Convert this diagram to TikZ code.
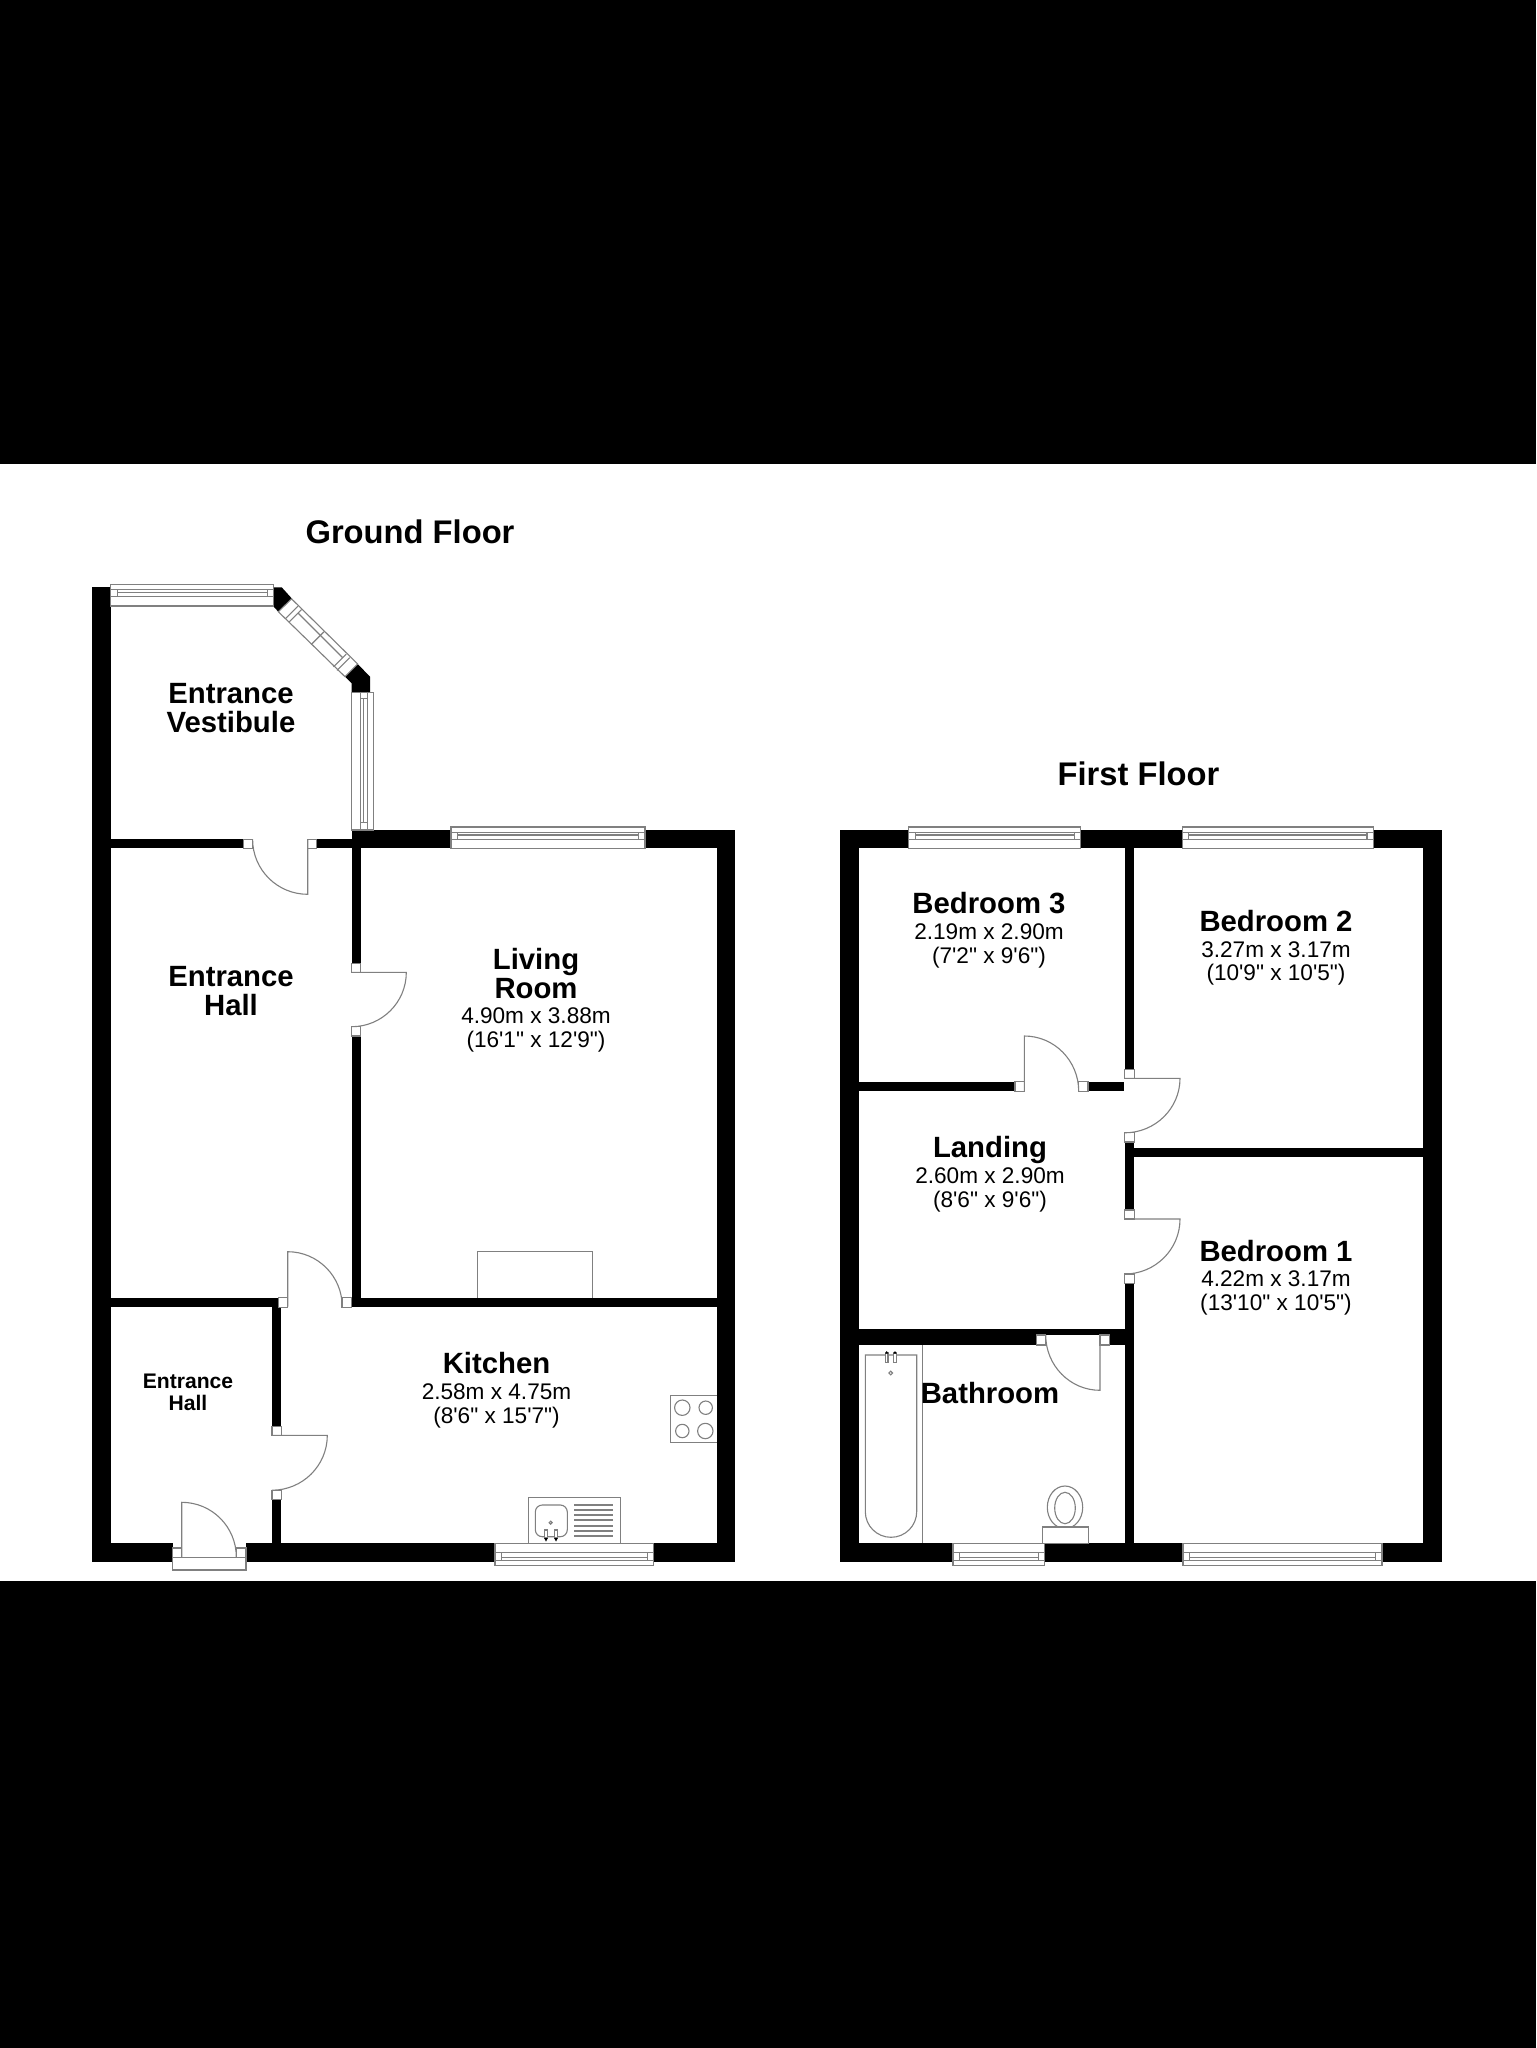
\documentclass[tikz,border=0pt]{standalone}
\usepackage{fontspec}
\newfontfamily\lab{Liberation Sans}
\newcommand{\namef}{\fontsize{14.65}{14.7}\bfseries\selectfont}
\newcommand{\hallf}{\fontsize{10.55}{10.9}\bfseries\selectfont}
\setlength{\lineskiplimit}{-100pt}
\definecolor{linegray}{gray}{0.5}
\tikzset{
 wall/.style={fill=black,draw=none},
 band/.style={fill=black,draw=none},
 thin line/.style={draw=linegray,line width=0.55pt},
 post/.style={draw=linegray,line width=0.55pt,fill=white},
 title/.style={font=\lab\fontsize{16.35}{16.4}\bfseries\selectfont,inner sep=0pt},
 room/.style={font=\lab\fontsize{11.3}{11.9}\selectfont,align=center,inner sep=0pt},
}
% wall rectangle
\newcommand{\W}[4]{\fill[wall] (#1,#2) rectangle (#3,#4);}
% door post
\newcommand{\Po}[4]{\draw[post] (#1,#2) rectangle (#3,#4);}
% door: hinge, leaf tip, arc end
\newcommand{\Door}[6]{\draw[thin line] (#1,#2) -- (#3,#4) .. controls ({#3+.5523*(#5-#1)},{#4+.5523*(#6-#2)}) and ({#5+.5523*(#3-#1)},{#6+.5523*(#4-#2)}) .. (#5,#6);}
% horizontal window: x1 x2 yref dir
\newcommand{\HW}[4]{%
 \draw[post] (#1,#3) rectangle (#2,{#3+#4*21.7});
 \draw[thin line] (#1,{#3+#4*5.2}) -- (#2,{#3+#4*5.2});
 \draw[thin line] (#1,{#3+#4*12.4}) -- (#2,{#3+#4*12.4});
 \draw[thin line] ({#1+6.5},{#3+#4*5.2}) -- ({#1+6.5},{#3+#4*12.4});
 \draw[thin line] ({#2-6.5},{#3+#4*5.2}) -- ({#2-6.5},{#3+#4*12.4});
 \draw[thin line] ({#1+6.5},{#3+#4*8}) -- ({#2-6.5},{#3+#4*8});
}
% diagonal window segment, in along (u) and across (v) measures
\newcommand{\DL}[4]{\draw[thin line] ({278.3+.7071*(#1+#2)},{611.7+.7071*(#1-#2)}) -- ({278.3+.7071*(#3+#4)},{611.7+.7071*(#3-#4)});}
\begin{document}
\begin{tikzpicture}[x=0.5pt,y=-0.5pt]
\useasboundingbox (0,0) rectangle (1536,2048);
\fill[white] (0,0) rectangle (1536,2048);
\fill[band] (0,0) rectangle (1536,464);
\fill[band] (0,1581) rectangle (1536,2048);

% ---------- Ground floor walls
\W{92}{587.3}{110.7}{1562.3}
\fill[wall] (273.7,587.3) -- (281.7,587.3) -- (292.3,599) -- (278.3,611.7) -- (273.7,606.7) -- cycle;
\fill[wall] (357.7,664) -- (370,676.7) -- (370,692.3) -- (351.7,692.3) -- (351.7,683.3) -- (345,676.7) -- cycle;
\W{110.7}{839.3}{243.3}{848.3}
\W{316.3}{839.3}{351.7}{848.3}
\W{351.7}{830}{451}{848.3}
\W{645}{830}{735.3}{848.3}
\W{716.7}{830}{735.3}{1562.3}
\W{110}{1543.3}{172.7}{1562.3}
\W{246}{1543.3}{495}{1562.3}
\W{653.7}{1543.3}{735.3}{1562.3}
\W{351.7}{848}{360.7}{963.3}
\W{351.7}{1036}{360.7}{1307.3}
\W{110.7}{1297.7}{278.3}{1307.3}
\W{351.7}{1297.7}{716.7}{1307.3}
\W{272}{1307}{281.3}{1426.7}
\W{272}{1499.7}{281.3}{1543.3}

% ---------- Ground floor windows
\HW{110.7}{273.7}{584.3}{1}
\HW{451}{645}{827}{1}
\HW{495}{653.7}{1565.3}{-1}
% vestibule side window
\draw[post] (351.7,692.3) rectangle (373.3,830);
\draw[thin line] (367.8,692.3) -- (367.8,830);
\draw[thin line] (360.6,692.3) -- (360.6,830);
\draw[thin line] (360.6,698.5) -- (367.8,698.5);
\draw[thin line] (360.6,822.7) -- (367.8,822.7);
\draw[thin line] (363.4,698.5) -- (363.4,822.7);
% vestibule diagonal window
\draw[post] (278.3,611.7) -- (291.6,598.9) -- (357.7,664) -- (345,676.7) -- cycle;
\DL{10}{0}{10}{18}
\DL{15}{0}{15}{18}
\DL{78}{0}{78}{18}
\DL{83}{0}{83}{18}
\DL{46.5}{0}{46.5}{18}
\DL{15}{13}{78}{13}

% ---------- Ground floor doors
\Po{243.3}{839.3}{252.6}{848.3}\Po{307.7}{839.3}{316.3}{848.3}
\Door{307.7}{839.3}{307.7}{894.3}{252.6}{839.3}
\Po{351.7}{963.3}{360.7}{972.3}\Po{351.7}{1026.7}{360.7}{1036}
\Door{351.7}{972.3}{406.3}{972.3}{351.7}{1026.7}
\Po{278.3}{1297.7}{287.7}{1307.3}\Po{342}{1297.7}{351.7}{1307.3}
\Door{287.7}{1306.5}{287.7}{1251.7}{342.2}{1306.5}
\Po{272}{1426.7}{281.3}{1435.3}\Po{272}{1490.2}{281.3}{1499.7}
\Door{272}{1435.3}{327.3}{1435.3}{272}{1490.2}
% front door
\Po{172.7}{1548}{181.7}{1558}\Po{236.3}{1548}{246}{1558}
\draw[post] (172.7,1557.7) rectangle (246,1570);
\Door{181.7}{1557}{181.7}{1502.3}{236.3}{1557}

% ---------- Ground floor fittings
\draw[thin line] (477.7,1297.7) -- (477.7,1251.7) -- (592.7,1251.7) -- (592.7,1297.7);
\draw[thin line] (716.7,1395.7) -- (670.7,1395.7) -- (670.7,1442.3) -- (716.7,1442.3);
\draw[thin line] (682.3,1407.7) circle[radius=7.7];
\draw[thin line] (705.7,1407.7) circle[radius=6.7];
\draw[thin line] (682.3,1431) circle[radius=6.7];
\draw[thin line] (705.3,1431) circle[radius=7.7];
\draw[thin line] (528.3,1543.3) -- (528.3,1497.3) -- (620.3,1497.3) -- (620.3,1543.3);
\draw[thin line,rounded corners=3.5pt] (535.3,1505) rectangle (567.3,1536.7);
\draw[thin line] (550.7,1522.7) circle[radius=1.5];
\foreach \tx in {546,556}{
 \draw[thin line,fill=white] ({\tx-1.5},1530) rectangle ({\tx+1.5},1538);
 \fill[black] ({\tx-1.8},1538) -- ({\tx+1.8},1538) -- (\tx,1541.5) -- cycle;
}
\foreach \ly in {1505,1510,1515,1520,1526,1531,1536}{
 \draw[thin line] (574.3,\ly) -- (613.3,\ly);
}

% ---------- First floor walls
\W{840}{830}{859}{1562.3}
\W{859}{830}{908.7}{848.3}
\W{1080.6}{830}{1182.2}{848.3}
\W{1373.5}{830}{1442}{848.3}
\W{1423.3}{848}{1442}{1562.3}
\W{859}{1543.3}{953}{1562.3}
\W{1044.7}{1543.3}{1183}{1562.3}
\W{1382}{1543.3}{1442}{1562.3}
\W{1124.7}{848}{1134.3}{1069.3}
\W{1124.7}{1142}{1134.3}{1210}
\W{1124.7}{1283.3}{1134.3}{1543.3}
\W{1134}{1147.7}{1423.5}{1157.3}
\W{859}{1081.7}{1015}{1091.3}
\W{1088}{1081.7}{1124.3}{1091.3}
\W{859}{1329.3}{1036.7}{1345}
\W{1036.7}{1329.3}{1109.3}{1335}
\W{1109.3}{1329.3}{1124.7}{1345}

% ---------- First floor windows
\HW{908.7}{1080.6}{827}{1}
\HW{1182.2}{1373.5}{827}{1}
\HW{953}{1044.7}{1565.3}{-1}
\HW{1183}{1382}{1565.3}{-1}

% ---------- First floor doors
\Po{1124.7}{1069.3}{1134.3}{1078.3}\Po{1124.7}{1132.3}{1134.3}{1142}
\Door{1124.7}{1078.3}{1180}{1078.3}{1124.7}{1132.8}
\Po{1124.7}{1210}{1134.3}{1219}\Po{1124.7}{1274}{1134.3}{1283.3}
\Door{1124.7}{1219}{1180}{1219}{1124.7}{1274}
\Po{1015}{1081.7}{1024.3}{1091.3}\Po{1078.7}{1081.7}{1088}{1091.3}
\Door{1024.3}{1091.3}{1024.3}{1036}{1078.7}{1091.3}
\Po{1036.7}{1335}{1045.7}{1345}\Po{1100}{1335}{1109.3}{1345}
\Door{1100}{1335}{1100}{1390.3}{1045.7}{1335}

% ---------- First floor fittings
\draw[thin line] (922.7,1345) -- (922.7,1543.3);
\draw[thin line] (865.3,1355) -- (916.7,1355) -- (916.7,1511.6) .. controls (916.7,1525.8) and (905.2,1537.3) .. (891,1537.3) .. controls (876.8,1537.3) and (865.3,1525.8) .. (865.3,1511.6) -- cycle;
\foreach \tx in {886.7,895}{
 \draw[thin line,fill=white] ({\tx-1.3},1353) rectangle ({\tx+1.3},1362.3);
 \fill[black] ({\tx-1.6},1353.5) -- ({\tx+1.6},1353.5) -- (\tx,1351) -- cycle;
}
\draw[thin line] (890.7,1373) circle[radius=1.8];
\draw[thin line] (1065,1507.3) ellipse[x radius=17.7,y radius=21.3];
\draw[thin line] (1065,1508) ellipse[x radius=10.3,y radius=15.7];
\draw[post] (1042.3,1543.3) rectangle (1088.3,1527);

% ---------- Texts
\node[title] (tground) at (410,532) {Ground Floor};
\node[title] (tfirst) at (1138.5,774) {First Floor};
\node[room] (vest) at (231,708.5) {\namef Entrance\\[2.6pt]\namef Vestibule};
\node[room] (hall) at (231,991.5) {\namef Entrance\\[2.6pt]\namef Hall};
\node[room] (living) at (536,1000.3) {\namef Living\\[2.6pt]\namef Room\\[0.9pt]4.90m x 3.88m\\(16'1" x 12'9")};
\node[room] (kitchen) at (496.5,1390.4) {\namef Kitchen\\[0.9pt]2.58m x 4.75m\\(8'6" x 15'7")};
\node[room] (hallb) at (188,1392.5) {\hallf Entrance\\[-1pt]\hallf Hall};
\node[room] (bed3) at (989,930.3) {\namef Bedroom 3\\[0.9pt]2.19m x 2.90m\\(7'2" x 9'6")};
\node[room] (bed2) at (1276,948) {\namef Bedroom 2\\[0.9pt]3.27m x 3.17m\\(10'9" x 10'5")};
\node[room] (landing) at (990,1174.3) {\namef Landing\\[0.9pt]2.60m x 2.90m\\(8'6" x 9'6")};
\node[room] (bed1) at (1276,1277.6) {\namef Bedroom 1\\[0.9pt]4.22m x 3.17m\\(13'10" x 10'5")};
\node[room] (bath) at (990,1393) {\namef Bathroom};
\end{tikzpicture}
\end{document}
